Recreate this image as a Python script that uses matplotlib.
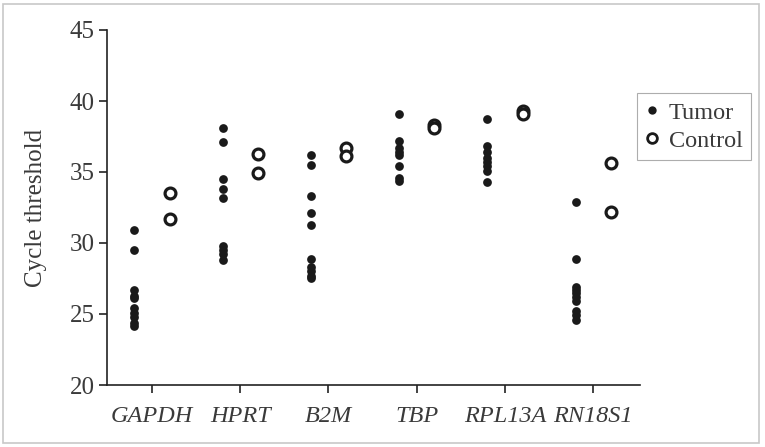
import matplotlib
matplotlib.use("Agg")
import matplotlib.pyplot as plt
from matplotlib.patches import Rectangle
from matplotlib.lines import Line2D

genes = ["GAPDH", "HPRT", "B2M", "TBP", "RPL13A", "RN18S1"]
tumor = [
    [30.9, 29.5, 26.7, 26.3, 26.1, 25.4, 25.1, 24.8, 24.4, 24.15],
    [38.1, 37.1, 34.5, 33.8, 33.2, 29.8, 29.5, 29.2, 28.8],
    [36.2, 35.5, 33.3, 32.1, 31.3, 28.9, 28.3, 28.0, 27.7, 27.5],
    [39.1, 37.2, 36.7, 36.4, 36.2, 35.4, 34.6, 34.4],
    [38.7, 36.8, 36.4, 36.0, 35.7, 35.4, 35.1, 34.3],
    [32.9, 28.9, 26.9, 26.7, 26.5, 26.2, 25.9, 25.2, 24.9, 24.6],
]
control = [
    [33.5, 31.7],
    [36.3, 34.9],
    [36.7, 36.1],
    [38.3, 38.1],
    [39.3, 39.1],
    [35.6, 32.2],
]
yticks = [20, 25, 30, 35, 40, 45]

plt.rcParams['font.family'] = ['Liberation Serif', 'DejaVu Serif']
txt = '#3a3a3a'

fig = plt.figure(figsize=(7.65, 4.47), dpi=100)
ax = fig.add_axes([107/765, 1-385/447, (640-107)/765, (385-30)/447])

off = 0.2
for i, g in enumerate(genes):
    ax.plot([i - off]*len(tumor[i]), tumor[i], 'o', color='#1a1a1a',
            markersize=6.3, markeredgewidth=0, linestyle='none')
    ax.plot([i + off]*len(control[i]), control[i], 'o', markerfacecolor='white',
            markeredgecolor='#1a1a1a', markersize=7.8, markeredgewidth=2.3,
            linestyle='none')

ax.set_xlim(-0.51, 5.53)
ax.set_ylim(20, 45)
ax.set_yticks(yticks)
ax.set_yticklabels([str(t) for t in yticks], fontsize=18, color=txt)
ax.set_xticks(range(len(genes)))
ax.set_xticklabels(genes, fontsize=17.5, style='italic', color=txt)
ax.tick_params(axis='both', direction='out', length=6, width=1.2, color='#222222')
ax.tick_params(axis='x', pad=9)
ax.tick_params(axis='y', pad=3)
for s in ['top', 'right']:
    ax.spines[s].set_visible(False)
for s in ['left', 'bottom']:
    ax.spines[s].set_linewidth(1.2)
    ax.spines[s].set_color('#222222')
ax.set_ylabel("Cycle threshold", fontsize=18, color=txt)
ax.yaxis.set_label_coords(-0.113, 0.5)

handles = [
    Line2D([], [], marker='o', color='#1a1a1a', markersize=6, markeredgewidth=0, linestyle='none'),
    Line2D([], [], marker='o', markerfacecolor='white', markeredgecolor='#1a1a1a',
           markersize=7, markeredgewidth=2, linestyle='none'),
]
leg = fig.legend(handles, ["Tumor", "Control"], loc='upper left',
                 bbox_to_anchor=(637/765, 1-93/447), fontsize=17.5,
                 frameon=True, fancybox=False, handlelength=0.5,
                 handletextpad=0.45, borderpad=0.35, labelspacing=0.25,
                 borderaxespad=0)
leg.get_frame().set_edgecolor('#999999')
leg.get_frame().set_linewidth(0.8)
for t in leg.get_texts():
    t.set_color(txt)

fig.patches.append(Rectangle((3/765, 4/447), 756/765, 439/447, transform=fig.transFigure,
                             fill=False, edgecolor='#c8c8c8', linewidth=1.2))

fig.savefig("out.png", dpi=100)
